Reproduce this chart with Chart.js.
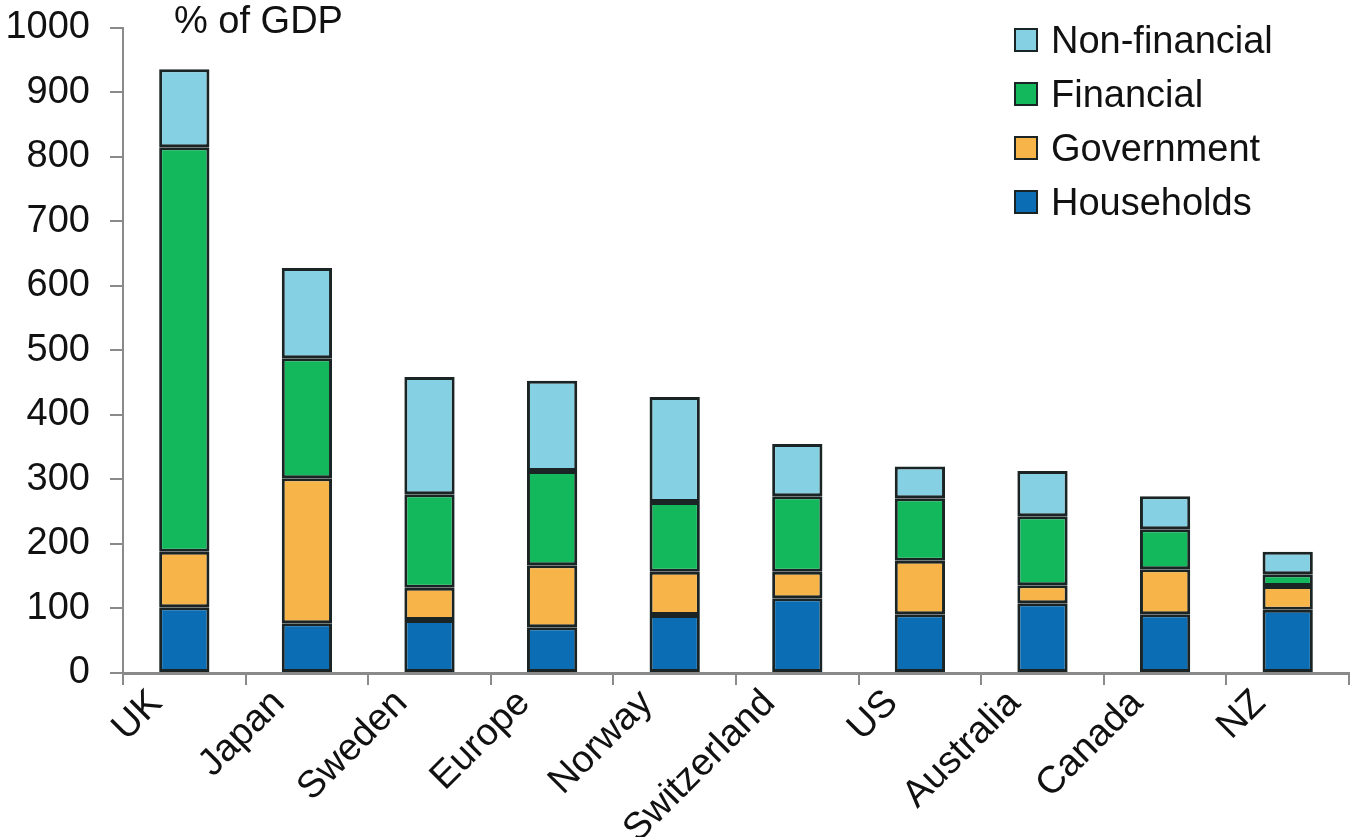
<!DOCTYPE html>
<html>
<head>
<meta charset="utf-8">
<script src="https://cdn.jsdelivr.net/npm/chart.js@4"></script>
<style>
  html, body { margin: 0; padding: 0; background: #fff; }
  #wrap { position: relative; width: 1350px; height: 837px; font-family: "Liberation Sans", Arial, sans-serif; }
  #unit { position: absolute; left: 174px; top: 0px; font-size: 38px; color: #111; line-height: 40px; }
  #legend { position: absolute; left: 1014px; top: 13px; font-size: 38px; color: #111; }
  #legend .item { display: flex; align-items: center; height: 54px; }
  #legend .box { width: 20px; height: 20px; border: 2.5px solid #1a2424; margin-right: 13px; }
</style>
</head>
<body>
<div id="wrap">
  <canvas id="c"></canvas>
  <div id="unit">% of GDP</div>
  <div id="legend"></div>
</div>
<script>
const categories = ["UK", "Japan", "Sweden", "Europe", "Norway", "Switzerland", "US", "Australia", "Canada", "NZ"];
const households   = [102, 77, 82, 71, 90, 116, 91, 108, 91, 98];
const government   = [86, 225, 50, 96, 67, 41, 83, 28, 70, 37];
const financial    = [627, 186, 145, 146, 108, 117, 97, 107, 62, 18];
const nonFinancial = [121, 140, 182, 140, 163, 81, 49, 70, 51, 35];
const yTicks = [0, 100, 200, 300, 400, 500, 600, 700, 800, 900, 1000];

const seriesNames = ["Households", "Government", "Financial", "Non-financial"];
const seriesColors = ["#0b6db3", "#f6b449", "#12b85b", "#86d0e3"];
const seriesData = [households, government, financial, nonFinancial];

const FONT = "'Liberation Sans', Arial, sans-serif";
const datasets = seriesNames.map((n, i) => ({
  label: n,
  data: seriesData[i],
  backgroundColor: seriesColors[i],
  borderColor: "#1a2424",
  borderWidth: 3,
  borderSkipped: false,
  barPercentage: 0.41,
  categoryPercentage: 1.0
}));

const chart = new Chart(document.getElementById("c"), {
  type: "bar",
  data: { labels: categories, datasets },
  options: {
    responsive: true,
    maintainAspectRatio: false,
    animation: false,
    layout: { padding: { top: 0, right: 1, left: 0, bottom: 0 } },
    plugins: { legend: { display: false }, tooltip: { enabled: false } },
    scales: {
      x: {
        stacked: true,
        offset: true,
        grid: { drawOnChartArea: false, drawTicks: true, tickLength: 12, color: "#8a8a8a", lineWidth: 2, offset: true },
        border: { display: true, color: "#8a8a8a", width: 3 },
        ticks: {
          color: "#111",
          font: { family: FONT, size: 38 },
          minRotation: 45, maxRotation: 45,
          autoSkip: false,
          labelOffset: -28,
          padding: -4
        },
        afterFit: s => { s.height = 164; }
      },
      y: {
        stacked: true,
        min: 0, max: 1000,
        afterBuildTicks: s => { s.ticks = yTicks.map(v => ({ value: v })); },
        grid: { drawOnChartArea: false, drawTicks: true, tickLength: 13, color: "#8a8a8a", lineWidth: 2 },
        border: { display: true, color: "#8a8a8a", width: 2 },
        ticks: {
          color: "#111",
          font: { family: FONT, size: 38, lineHeight: 0.42 },
          padding: 20,
          callback: v => String(v)
        },
        afterFit: s => { s.width = 123; }
      }
    }
  }
});

// HTML legend built from the chart's datasets (reversed order like the reference)
const legendEl = document.getElementById("legend");
chart.data.datasets.slice().reverse().forEach(ds => {
  const item = document.createElement("div");
  item.className = "item";
  const box = document.createElement("span");
  box.className = "box";
  box.style.background = ds.backgroundColor;
  const txt = document.createElement("span");
  txt.textContent = ds.label;
  item.appendChild(box);
  item.appendChild(txt);
  legendEl.appendChild(item);
});
</script>
</body>
</html>
